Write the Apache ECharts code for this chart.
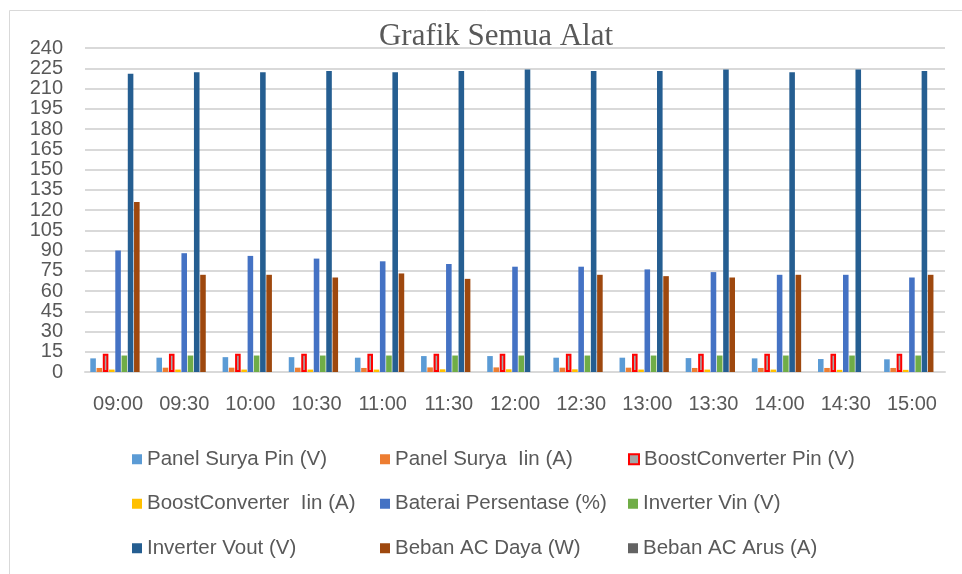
<!DOCTYPE html>
<html>
<head>
<meta charset="utf-8">
<script src="https://cdn.jsdelivr.net/npm/echarts@6/dist/echarts.min.js"></script>
<style>
  html, body { margin: 0; padding: 0; background: #fff; }
  #chart { width: 962px; height: 574px; }
</style>
</head>
<body>
<div id="chart"></div>
<script>
  // waktu pengukuran
  const categories = ['09:00', '09:30', '10:00', '10:30', '11:00', '11:30', '12:00', '12:30', '13:00', '13:30', '14:00', '14:30', '15:00'];
  const yTicks = [0, 240, 15]; // min, max, step

  const panelPin = [10.1, 10.6, 11, 11, 10.6, 11.8, 11.8, 10.6, 10.6, 10.3, 10.1, 9.6, 9.4];
  const panelIin = [3, 3.2, 3.2, 3.2, 3, 3.4, 3.4, 3.2, 3.2, 3, 3, 3, 3];
  const boostPin = [13.6, 13.6, 13.6, 13.6, 13.6, 13.6, 13.6, 13.6, 13.6, 13.6, 13.6, 13.6, 13.6];
  const boostIin = [1.8, 1.8, 1.8, 1.8, 1.8, 2, 2, 2, 1.8, 1.8, 1.8, 1.6, 1.6];
  const baterai = [90, 88, 86, 84, 82, 80, 78, 78, 76, 74, 72, 72, 70];
  const invVin = [12.2, 12.2, 12.2, 12.2, 12.2, 12.2, 12.2, 12.2, 12.2, 12.2, 12.2, 12.2, 12.2];
  const invVout = [221, 222, 222, 223, 222, 223, 224, 223, 223, 224, 222, 224, 223];
  const bebanDaya = [126, 72, 72, 70, 73, 69, 0, 72, 71, 70, 72, 0, 72];
  const bebanArus = [0, 0, 0, 0, 0, 0, 0, 0, 0, 0, 0, 0, 0];

  const seriesNames = ['Panel Surya Pin (V)', 'Panel Surya  Iin (A)', 'BoostConverter Pin (V)',
    'BoostConverter  Iin (A)', 'Baterai Persentase (%)', 'Inverter Vin (V)',
    'Inverter Vout (V)', 'Beban AC Daya (W)', 'Beban AC Arus (A)'];
  const seriesData = [panelPin, panelIin, boostPin, boostIin, baterai, invVin, invVout, bebanDaya, bebanArus];
  const colors = ['#5B9BD5', '#ED7D31', '#A5A5A5', '#FFC000', '#4472C4', '#70AD47', '#255E91', '#9E480E', '#636363'];

  const myChart = echarts.init(document.getElementById('chart'));
  const font = 'Liberation Sans, Arial, sans-serif';

  const series = seriesNames.map((name, i) => ({
    name: name,
    type: 'bar',
    data: seriesData[i],
    barGap: '12%',
    barCategoryGap: '16%',
    itemStyle: i === 2
      ? { color: colors[i], borderColor: '#FF0000', borderWidth: 2 }
      : { color: colors[i] }
  }));

  const option = {
    animation: false,
    color: colors,
    graphic: [{
      type: 'rect',
      shape: { x: 9.5, y: 10.5, width: 1000, height: 600 },
      style: { fill: 'none', stroke: '#d9d9d9', lineWidth: 1 },
      silent: true
    }],
    title: {
      text: 'Grafik Semua Alat',
      left: 491,
      textAlign: 'center',
      top: 16,
      textStyle: { fontFamily: 'Liberation Serif, Times New Roman, serif', fontSize: 31, fontWeight: 'normal', color: '#595959' }
    },
    grid: { left: 85, right: 17, top: 48, bottom: 202 },
    xAxis: {
      type: 'category',
      data: categories,
      axisLine: { lineStyle: { color: '#d9d9d9', width: 2 } },
      axisTick: { show: false },
      axisLabel: { fontFamily: font, fontSize: 20, color: '#595959', margin: 22 }
    },
    yAxis: {
      type: 'value',
      min: yTicks[0],
      max: yTicks[1],
      interval: yTicks[2],
      axisLine: { show: false },
      axisTick: { show: false },
      axisLabel: { fontFamily: font, fontSize: 20, color: '#595959', margin: 22 },
      splitLine: { lineStyle: { color: '#d9d9d9', width: 2 } }
    },
    legend: {
      left: 127,
      top: 437,
      width: 760,
      itemWidth: 10,
      itemHeight: 10,
      itemGap: 10,
      icon: 'rect',
      data: seriesNames.map((n, i) => i === 2
        ? { name: n, itemStyle: { color: colors[i], borderColor: '#FF0000', borderWidth: 2 } }
        : { name: n }),
      textStyle: { fontFamily: font, fontSize: 20.5, color: '#595959', width: 223, lineHeight: 34.5 }
    },
    series: series
  };
  option && myChart.setOption(option);
</script>
</body>
</html>
